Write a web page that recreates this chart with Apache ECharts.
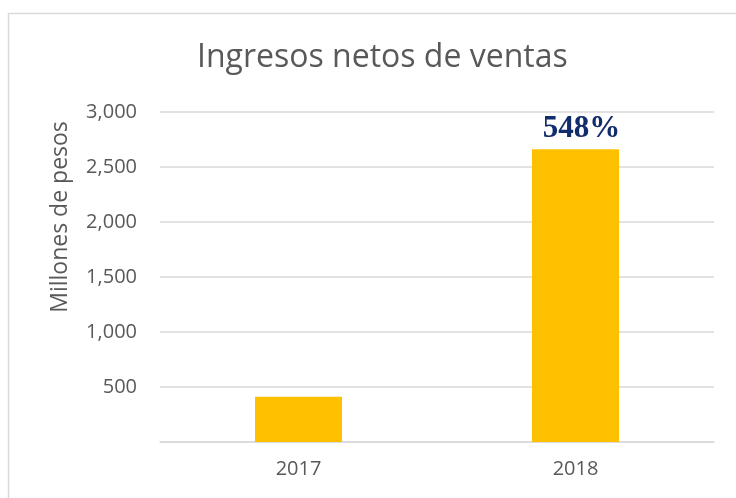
<!DOCTYPE html>
<html>
<head>
    <meta charset="utf-8">
    <script src="https://cdn.jsdelivr.net/npm/echarts@6/dist/echarts.min.js"></script>
    <style>
        html, body { margin: 0; padding: 0; background: #fff; }
        #container { width: 736px; height: 498px; }
    </style>
</head>
<body>
<div id="container"></div>
<script>
    // datos
    let years = ['2017', '2018'];
    let ventas = [411, 2662];
    let etiquetas = ['', '548%'];
    let yTicks = [0, 500, 1000, 1500, 2000, 2500, 3000];

    let myChart = echarts.init(document.getElementById('container'));
    let gris = '#595959';
    let option = {
        animation: false,
        title: {
            text: 'Ingresos netos de ventas',
            left: 192,
            top: 37,
            textStyle: {
                fontFamily: 'Open Sans',
                fontWeight: 'normal',
                fontSize: 32,
                color: gris
            }
        },
        graphic: [{
            type: 'rect',
            shape: { x: 8.5, y: 13.5, width: 760, height: 520 },
            style: { fill: 'none', stroke: '#d9d9d9', lineWidth: 1.5 },
            silent: true
        }],
        grid: {
            left: 160,
            right: 22,
            top: 112,
            bottom: 56
        },
        xAxis: {
            type: 'category',
            data: years,
            axisTick: { show: false },
            axisLine: { lineStyle: { color: '#d9d9d9', width: 1.5 } },
            axisLabel: {
                color: gris,
                fontFamily: 'Open Sans',
                fontSize: 20,
                margin: 17
            }
        },
        yAxis: {
            type: 'value',
            min: yTicks[0],
            max: yTicks[yTicks.length - 1],
            interval: 500,
            name: 'Millones de pesos',
            nameLocation: 'middle',
            nameGap: 88,
            nameTextStyle: {
                color: gris,
                fontFamily: 'Open Sans',
                fontSize: 23,
                padding: [0, 0, 0, 120]
            },
            axisLine: { show: false },
            axisTick: { show: false },
            splitLine: { lineStyle: { color: '#d9d9d9', width: 1.5 } },
            axisLabel: {
                color: gris,
                fontFamily: 'Open Sans',
                fontSize: 20,
                margin: 23,
                formatter: function (v) {
                    if (v === 0) return '';
                    return v.toLocaleString('en-US');
                }
            }
        },
        series: [{
            type: 'bar',
            data: ventas,
            barWidth: 87,
            itemStyle: { color: '#ffc000' },
            label: {
                show: true,
                position: 'top',
                distance: 5,
                offset: [6, 0],
                formatter: function (p) {
                    return etiquetas[p.dataIndex];
                },
                color: '#112c6c',
                fontFamily: 'Liberation Serif',
                fontWeight: 'bold',
                fontSize: 31
            }
        }]
    };
    myChart.setOption(option);
</script>
</body>
</html>
